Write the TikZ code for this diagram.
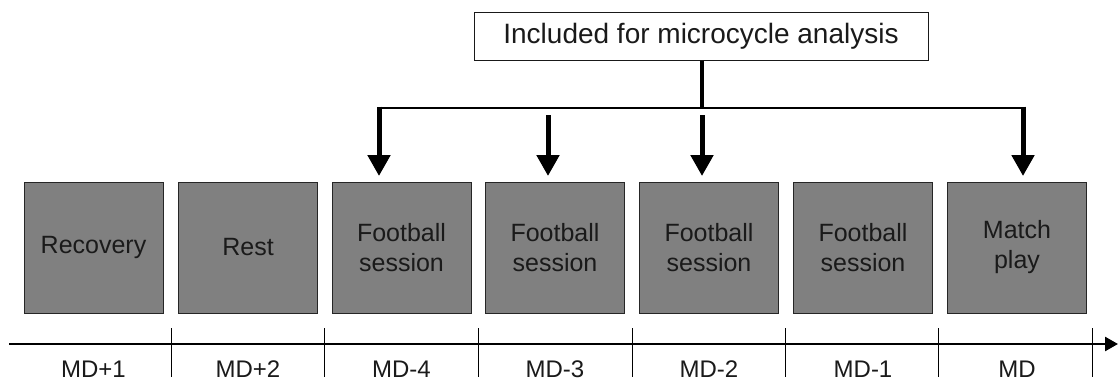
\documentclass[tikz,border=0pt]{standalone}
\usepackage{fontspec}
\setmainfont{Liberation Sans}
\usetikzlibrary{arrows.meta}
\definecolor{boxgray}{HTML}{808080}
\definecolor{txt}{HTML}{1A1A1A}
\begin{document}
\begin{tikzpicture}[x=1pt,y=-1pt,
  daybox/.style={draw=black!85, line width=1pt, fill=boxgray, minimum width=139pt,
    minimum height=131pt, inner sep=0pt, align=center, text=txt,
    font=\fontsize{25}{30}\selectfont},
  daylabel/.style={anchor=base, inner sep=0pt, text=txt, font=\fontsize{24}{24}\selectfont},
  topbox/.style={draw=black!90, line width=1pt, fill=white, minimum width=454pt,
    minimum height=48pt, inner sep=0pt, text=txt, font=\fontsize{28}{28}\selectfont},
  branch/.style={line width=2.6pt},
  stem/.style={line width=4pt},
  pointer/.style={line width=5pt, -{Triangle[width=22pt,length=21pt]}},
  axis/.style={line width=2.6pt, -{Triangle[width=14pt,length=13pt]}},
  tick/.style={line width=0.9pt}
]
\useasboundingbox (0,0) rectangle (1118,381);

% day boxes
\node[daybox] (b1) at (93.5,247.5) {Recovery};
\node[daybox] (b2) at (248,247.5) {Rest};
\node[daybox] (b3) at (401.5,247.5) {Football\\session};
\node[daybox] (b4) at (555,247.5) {Football\\session};
\node[daybox] (b5) at (709,247.5) {Football\\session};
\node[daybox] (b6) at (863,247.5) {Football\\session};
\node[daybox] (b7) at (1017,247.5) {Match\\play};

% top box
\node[topbox] (t) at (701,36) {Included for microcycle analysis};

% connectors
\coordinate (j) at (702,108);
\coordinate (hL) at (377.5,108);
\coordinate (hR) at (1025.5,108);
\coordinate (s1) at (379,106.7);
\coordinate (tip1) at (379,176);
\coordinate (s7) at (1023,106.7);
\coordinate (tip7) at (1023,176);
\coordinate (s2) at (548,115);
\coordinate (tip2) at (548,176);
\coordinate (s3) at (702,115);
\coordinate (tip3) at (702,176);
\draw[stem] (t.south -| j) -- (j);
\draw[branch] (hL) -- (hR);
\draw[pointer] (s1) -- (tip1);
\draw[pointer] (s7) -- (tip7);
\draw[pointer] (s2) -- (tip2);
\draw[pointer] (s3) -- (tip3);

% time axis
\coordinate (a0) at (9,344);
\coordinate (a1) at (1118,344);
\draw[axis] (a0) -- (a1);
\foreach \x in {171,324,478,632,785,938,1092}
  \draw[tick] (\x,328) -- (\x,377);

% axis labels
\node[daylabel] (l1) at (93.5,377) {MD+1};
\node[daylabel] (l2) at (248,377) {MD+2};
\node[daylabel] (l3) at (401.5,377) {MD-4};
\node[daylabel] (l4) at (555,377) {MD-3};
\node[daylabel] (l5) at (709,377) {MD-2};
\node[daylabel] (l6) at (863,377) {MD-1};
\node[daylabel] (l7) at (1017,377) {MD};
\end{tikzpicture}
\end{document}
